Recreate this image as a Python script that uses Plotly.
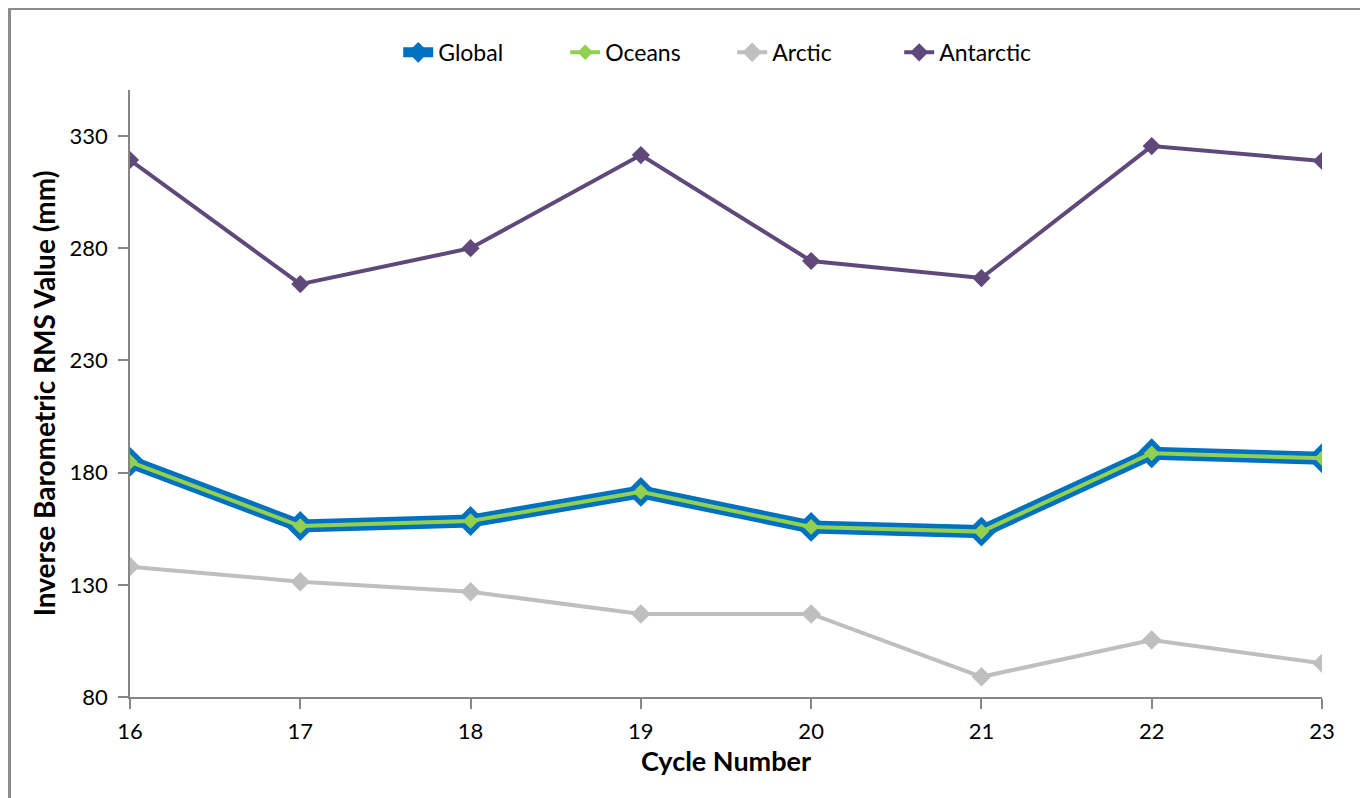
import plotly.graph_objects as go

cycles = [16, 17, 18, 19, 20, 21, 22, 23]
global_rms = [184.8, 156.2, 158.4, 171.4, 155.8, 153.7, 188.6, 186.4]
oceans_rms = [184.8, 156.2, 158.4, 171.4, 155.8, 153.7, 188.6, 186.4]
arctic_rms = [138.1, 131.4, 126.9, 117.0, 117.0, 89.0, 105.4, 95.0]
antarctic_rms = [319.3, 264.0, 280.0, 321.5, 274.3, 266.7, 325.5, 318.9]

y_ticks = [80, 130, 180, 230, 280, 330]

fig = go.Figure()

fig.add_trace(go.Scatter(
    x=cycles, y=global_rms, name='Global', mode='lines+markers',
    line=dict(color='#0070C0', width=13),
    marker=dict(symbol='diamond', size=23, color='#0070C0'),
))
fig.add_trace(go.Scatter(
    x=cycles, y=oceans_rms, name='Oceans', mode='lines+markers',
    line=dict(color='#92D050', width=4),
    marker=dict(symbol='diamond', size=12, color='#92D050'),
))
fig.add_trace(go.Scatter(
    x=cycles, y=arctic_rms, name='Arctic', mode='lines+markers',
    line=dict(color='#BFBFBF', width=4),
    marker=dict(symbol='diamond', size=15, color='#BFBFBF'),
))
fig.add_trace(go.Scatter(
    x=cycles, y=antarctic_rms, name='Antarctic', mode='lines+markers',
    line=dict(color='#5F497A', width=4),
    marker=dict(symbol='diamond', size=14, color='#5F497A'),
))

axis_col = '#868686'

# page body has an 8px margin, so the figure is offset by that amount
fig.update_layout(
    width=1360, height=790,
    paper_bgcolor='white', plot_bgcolor='white',
    margin=dict(l=122, r=46, t=82, b=101),
    font=dict(family='Lato, Open Sans, sans-serif', size=22, color='#000000'),
    showlegend=True,
    legend=dict(orientation='h', x=0.225, xanchor='left', y=1.062, yanchor='middle',
                font=dict(size=23), traceorder='normal', entrywidth=122),
    xaxis=dict(
        range=[16, 23], tickvals=cycles, showgrid=False, zeroline=False,
        showline=True, linecolor=axis_col, linewidth=1.5,
        ticks='outside', ticklen=10, tickcolor=axis_col, tickwidth=1.5,
        ticklabelstandoff=4,
        title=dict(text='<b>Cycle Number</b>', font=dict(size=27), standoff=6),
    ),
    yaxis=dict(
        range=[80, 350.5], tickvals=y_ticks, showgrid=False, zeroline=False,
        showline=True, linecolor=axis_col, linewidth=1.5,
        ticks='outside', ticklen=10, tickcolor=axis_col, tickwidth=1.5,
        ticklabelstandoff=6,
        title=dict(text='<b>Inverse Barometric RMS Value (mm)</b>', font=dict(size=28), standoff=6),
    ),
    shapes=[dict(type='rect', xref='paper', yref='paper',
                 x0=(1.5 - 122) / 1192, x1=(1357 - 122) / 1192,
                 y0=(689 - 800) / 607, y1=(689 - 0.5) / 607,
                 line=dict(color='#8C8C8C', width=3))],
)

fig.write_html("out.html")
